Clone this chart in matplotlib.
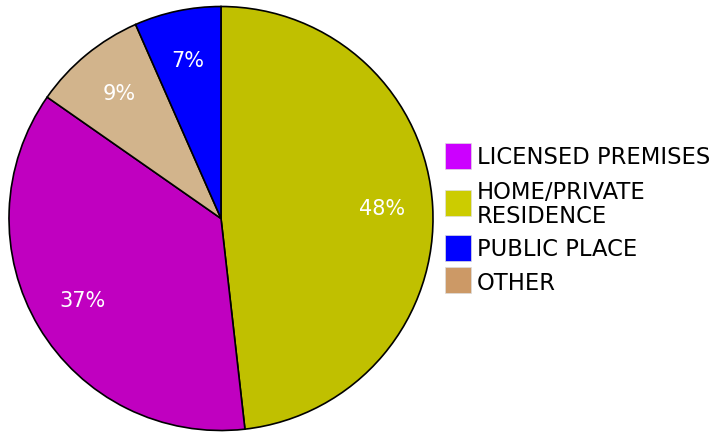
import matplotlib.pyplot as plt
from matplotlib.patches import Rectangle

# slices clockwise from 12 o'clock
slice_names = ['HOME/PRIVATE\nRESIDENCE', 'LICENSED PREMISES', 'OTHER', 'PUBLIC PLACE']
slice_shares = [48.2, 36.5, 8.7, 6.6]
slice_colors = ['#C0C000', '#C000C0', '#D2B48C', '#0000FF']

# legend entries
legend_labels = ['LICENSED PREMISES', 'HOME/PRIVATE\nRESIDENCE', 'PUBLIC PLACE', 'OTHER']
legend_colors = ['#CC00FF', '#CCCC00', '#0000FF', '#CC9966']

W, H = 716, 434
fig = plt.figure(figsize=(W / 100, H / 100), dpi=100)

# pie axes, square box in pixels
cx, cy, R = 221, 218.5, 212
ax = fig.add_axes([(cx - R) / W, (H - cy - R) / H, 2 * R / W, 2 * R / H])
wedges, texts, autotexts = ax.pie(
    slice_shares, colors=slice_colors, startangle=90, counterclock=False,
    autopct='%.0f%%', pctdistance=0.76,
    wedgeprops=dict(edgecolor='black', linewidth=1.2))
for t in autotexts:
    t.set_color('white')
    t.set_fontsize(15)
ax.set_xlim(-1, 1)
ax.set_ylim(-1, 1)
ax.axis('off')

# legend drawn in pixel coordinates
lg = fig.add_axes([0, 0, 1, 1])
lg.set_xlim(0, W)
lg.set_ylim(H, 0)
lg.axis('off')
swatch_y = [143, 190, 235, 267]
text_y = [158, 204.5, 250, 283]
for yy, ty, lab, col in zip(swatch_y, text_y, legend_labels, legend_colors):
    lg.add_patch(Rectangle((445, yy), 26, 26, facecolor=col, edgecolor='#dddddd', linewidth=0.5))
    lg.text(477, ty, lab, fontsize=16.3, va='center', ha='left', color='black',
            linespacing=1.1)

fig.savefig('out.png', dpi=100)
